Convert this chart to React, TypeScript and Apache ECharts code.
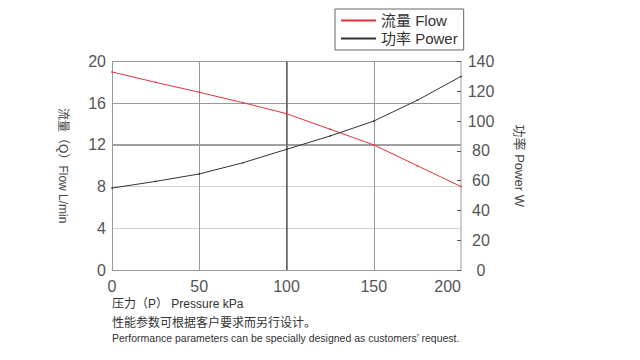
import React, { useEffect, useRef } from "react";
import * as echarts from "echarts";

const pressure = [0, 25, 50, 75, 100, 125, 150, 175, 200];
const flow = [19.0, 18.0, 17.05, 16.05, 15.0, 13.5, 12.0, 10.0, 8.0];
const power = [55, 59.5, 64.5, 72, 81, 90, 100, 114, 130];
const flowName = "流量 Flow";
const powerName = "功率 Power";
const flowAxisTitle = "流量（Q）Flow L/min";
const powerAxisTitle = "功率 Power W";
const xTitle = "压力（P） Pressure kPa";
const noteCn = "性能参数可根据客户要求而另行设计。";
const noteEn = "Performance parameters can be specially designed as customers’ request.";
const emphasisFlow = 12;
const emphasisPressure = 100;

const FONT = "'Liberation Sans', 'Noto Sans CJK SC', sans-serif";

export default function App() {
  const ref = useRef<HTMLDivElement>(null);
  useEffect(() => {
    if (!ref.current) return;
    const chart = echarts.init(ref.current, null, { renderer: "svg" });
    chart.setOption({
      animation: false,
      backgroundColor: "#fff",
      textStyle: { fontFamily: FONT },
      grid: { left: 112, right: 179, top: 61.5, bottom: 90, containLabel: false },
      legend: {
        orient: "vertical",
        left: 335,
        top: 9,
        width: 126,
        padding: [4, 6, 4, 6],
        itemGap: 3,
        itemWidth: 35,
        itemHeight: 2,
        icon: "rect",
        borderColor: "#666",
        borderWidth: 1,
        textStyle: { fontSize: 15, color: "#333", fontFamily: FONT },
        data: [flowName, powerName],
      },
      xAxis: {
        type: "value",
        min: 0,
        max: 200,
        interval: 50,
        axisLine: { show: true, lineStyle: { color: "#999", width: 1 } },
        axisTick: { show: false },
        axisLabel: { fontSize: 16, color: "#555", margin: 8, alignMaxLabel: "right", fontFamily: FONT },
        splitLine: {
          show: true,
          lineStyle: { color: ["#999", "#999", "#666", "#999", "#ccc"], width: 1 },
        },
      },
      yAxis: [
        {
          type: "value",
          min: 0,
          max: 20,
          interval: 4,
          name: flowAxisTitle,
          nameLocation: "middle",
          nameRotate: -90,
          nameGap: 43,
          nameTextStyle: { fontSize: 12, color: "#444", fontFamily: FONT },
          axisLine: { show: true, lineStyle: { color: "#999" } },
          axisTick: { show: false },
          axisLabel: { fontSize: 16, color: "#555", margin: 6, fontFamily: FONT, padding: [4, 0, 0, 0] },
          splitLine: {
            show: true,
            lineStyle: { color: ["#999", "#d0d0d0", "#d0d0d0", "#aaa", "#999", "#999"], width: 1 },
          },
        },
        {
          type: "value",
          min: 0,
          max: 140,
          interval: 20,
          position: "right",
          name: powerAxisTitle,
          nameLocation: "middle",
          nameRotate: -90,
          nameGap: 52,
          nameTextStyle: { fontSize: 13, color: "#444", fontFamily: FONT },
          axisLine: { show: true, lineStyle: { color: "#ccc", width: 2 } },
          axisTick: { show: true, inside: true, length: 4, lineStyle: { color: "#555" } },
          axisLabel: { fontSize: 16, color: "#555", margin: 20, align: "center", fontFamily: FONT },
          splitLine: { show: false },
        },
      ],
      graphic: [
        {
          type: "text",
          left: 112,
          top: 298,
          style: { text: xTitle, fontSize: 12, fill: "#333", fontFamily: FONT },
        },
        {
          type: "text",
          left: 112,
          top: 317,
          style: { text: noteCn, fontSize: 12, fill: "#333", fontFamily: FONT },
        },
        {
          type: "text",
          left: 112,
          top: 333,
          style: { text: noteEn, fontSize: 10.5, fill: "#333", fontFamily: FONT },
        },
      ],
      series: [
        {
          name: flowName,
          type: "line",
          yAxisIndex: 0,
          data: pressure.map((p, i) => [p, flow[i]]),
          symbol: "rect",
          symbolSize: 1.5,
          lineStyle: { color: "#e0323c", width: 1 },
          itemStyle: { color: "#e0323c" },
          markLine: {
            silent: true,
            symbol: "none",
            label: { show: false },
            z: 1,
            data: [
              { yAxis: emphasisFlow, lineStyle: { color: "#a0a0a0", width: 2, type: "solid" } },
              { xAxis: emphasisPressure, lineStyle: { color: "#666", width: 1.5, type: "solid" } },
            ],
          },
          z: 3,
        },
        {
          name: powerName,
          type: "line",
          yAxisIndex: 1,
          data: pressure.map((p, i) => [p, power[i]]),
          symbol: "rect",
          symbolSize: 1.5,
          lineStyle: { color: "#333", width: 1 },
          itemStyle: { color: "#333" },
          z: 3,
        },
      ],
    });
    return () => chart.dispose();
  }, []);
  return <div ref={ref} style={{ width: 640, height: 360, position: "absolute", left: 0, top: 0 }} />;
}
